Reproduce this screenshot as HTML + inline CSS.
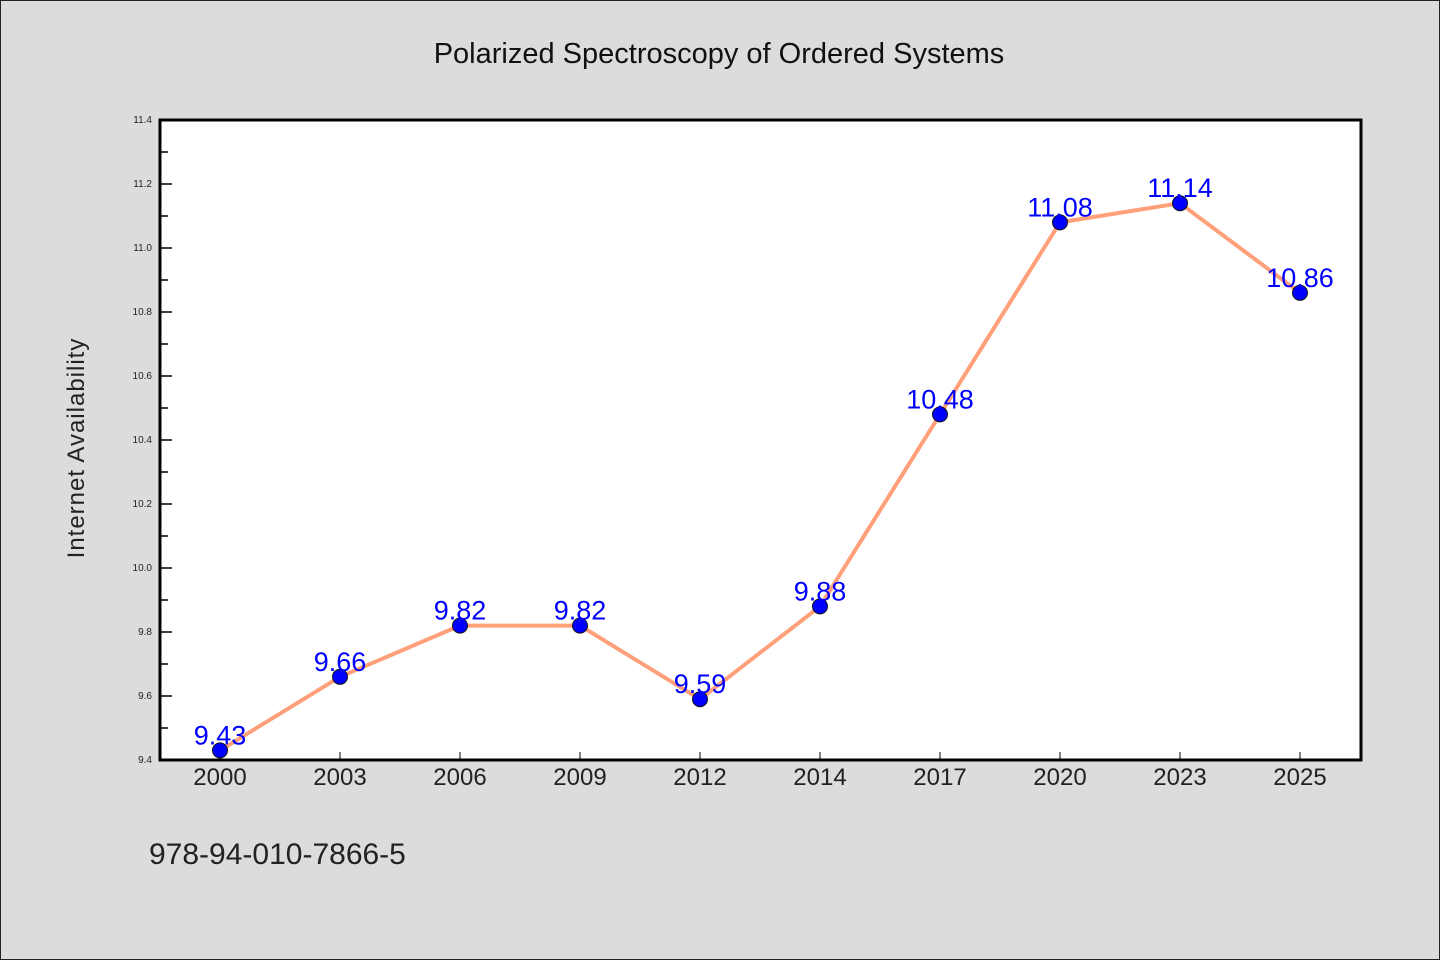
<!DOCTYPE html>
<html><head><meta charset="utf-8"><style>
html,body{margin:0;padding:0;background:#dcdcdc}
svg{display:block}
text{font-family:"WenQuanYi Zen Hei","Liberation Sans",sans-serif}
</style></head><body>
<svg id="chart" width="1440" height="960" xmlns="http://www.w3.org/2000/svg">
<rect x="0.5" y="0.5" width="1439" height="959" fill="#dcdcdc" stroke="#222" stroke-width="1"/>
<text x="719" y="63" font-size="29" text-anchor="middle" fill="#111">Polarized Spectroscopy of Ordered Systems</text>
<rect x="160" y="120" width="1201" height="640" fill="#fff"/>
<g id="grid"></g>
<g id="series"></g>
<rect x="160" y="120" width="1201" height="640" fill="none" stroke="#000" stroke-width="3"/>
<text transform="translate(84,448) rotate(-90)" font-size="24" text-anchor="middle" fill="#222" letter-spacing="1">Internet Availability</text>
<text x="149" y="864" font-size="30" fill="#222">978-94-010-7866-5</text>
</svg>
<script>
const categories=["2000","2003","2006","2009","2012","2014","2017","2020","2023","2025"];
const values=[9.43,9.66,9.82,9.82,9.59,9.88,10.48,11.08,11.14,10.86];
const valueLabels=["9.43","9.66","9.82","9.82","9.59","9.88","10.48","11.08","11.14","10.86"];
const yTicks=[9.4,9.6,9.8,10.0,10.2,10.4,10.6,10.8,11.0,11.2,11.4];
const yMin=9.4,yMax=11.4;
const L=160,R=1361,T=120,B=760;
const NS="http://www.w3.org/2000/svg";
function xs(i){return L+60+i*120;}
function ys(v){return B-(v-yMin)/(yMax-yMin)*(B-T);}
function mk(t,a){const e=document.createElementNS(NS,t);for(const k in a)e.setAttribute(k,a[k]);return e;}
const g=document.getElementById('grid'),s=document.getElementById('series');
yTicks.forEach((v,i)=>{
 const y=ys(v);
 const t=mk('line',{x1:L,x2:L+12,y1:y,y2:y,stroke:'#000','stroke-width':1.5});
 
 
 g.appendChild(t);
 const lb=mk('text',{x:L-8,y:y+3,'font-size':10,'text-anchor':'end',fill:'#222'});
 
 
 lb.textContent=v.toFixed(1);g.appendChild(lb);
 if(i<yTicks.length-1){const ym=ys(v+0.1);
  const m=mk('line',{x1:L,x2:L+8,y1:ym,y2:ym,stroke:'#000','stroke-width':1.5});
  
  
  g.appendChild(m);}
});
categories.forEach((c,i)=>{
 const x=xs(i);
 const t=mk('line',{x1:x,x2:x,y1:B,y2:B-8,stroke:'#000','stroke-width':1});
 
 
 g.appendChild(t);
 const lb=mk('text',{x:x,y:B+25,'font-size':24,'text-anchor':'middle',fill:'#222'});
 
 
 lb.textContent=c;g.appendChild(lb);
});
const pl=mk('polyline',{points:values.map((v,i)=>xs(i)+','+ys(v)).join(' '),fill:'none',stroke:'#ffa07a','stroke-width':4,'stroke-linejoin':'round'});


s.appendChild(pl);
values.forEach((v,i)=>{
 const c=mk('circle',{cx:xs(i),cy:ys(v),r:7.5,fill:'#0000ff',stroke:'#111','stroke-width':1});
 
 
 s.appendChild(c);
});
values.forEach((v,i)=>{
 const t=mk('text',{x:xs(i),y:ys(v)-6,'font-size':27,'text-anchor':'middle',fill:'#0000ff'});
 
 
 t.textContent=valueLabels[i];s.appendChild(t);
});
</script>
</body></html>
